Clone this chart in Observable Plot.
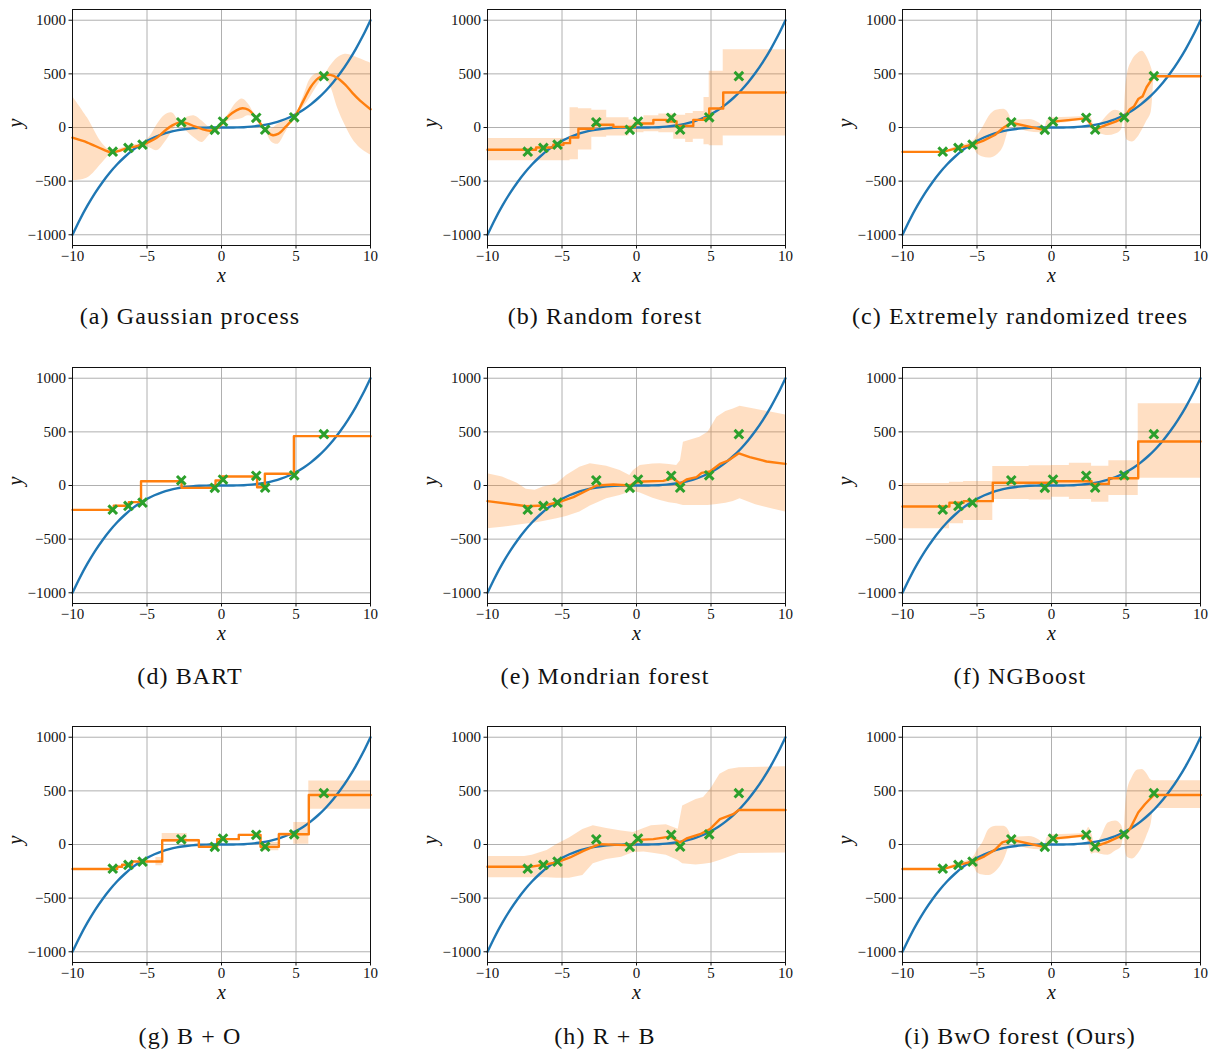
<!DOCTYPE html>
<html>
<head>
<meta charset="utf-8">
<script src="https://cdn.jsdelivr.net/npm/d3@7"></script>
<script src="https://cdn.jsdelivr.net/npm/@observablehq/plot@0.6"></script>
<style>
  html, body { margin: 0; padding: 0; background: #fff; }
  #root { position: relative; width: 1209px; height: 1049px; background: #fff; }
  .panel { position: absolute; }
  .panel svg text { font-family: 'Liberation Serif', 'DejaVu Serif', serif; }
  .cap { position: absolute; width: 380px; text-align: center; font-family: 'Liberation Serif', 'DejaVu Serif', serif;
         font-size: 24px; letter-spacing: 1.1px; line-height: 28px; color: #111; white-space: nowrap; }
</style>
</head>
<body>
<div id="root"></div>
<script>
// ---------- shared data ----------
const xTicks = [-10, -5, 0, 5, 10];
const yTicks = [-1000, -500, 0, 500, 1000];

// observed training points (green crosses)
const ptX = [-7.3, -6.25, -5.3, -2.7, -0.45, 0.1, 2.33, 2.93, 4.88, 6.87];
const ptY = [-225, -190, -160, 48, -22, 55, 90, -20, 95, 478];

// true function (blue curve), read at half-unit steps
const trueX = [-10,-9.5,-9,-8.5,-8,-7.5,-7,-6.5,-6,-5.5,-5,-4.5,-4,-3.5,-3,-2.5,-2,-1.5,-1,-0.5,0,0.5,1,1.5,2,2.5,3,3.5,4,4.5,5,5.5,6,6.5,7,7.5,8,8.5,9,9.5,10];
const trueY = [-1000,-857,-729,-614,-512,-422,-343,-275,-216,-166,-125,-91,-64,-43,-27,-16,-8,-3,-1,0,0,0,1,3,8,16,27,43,64,91,125,166,216,275,343,422,512,614,729,857,1000];

// (a) Gaussian process
const gpX    = [-10,-9,-8,-7.4,-6.8,-6.25,-5.8,-5.3,-4.8,-4.3,-3.8,-3.3,-2.8,-2.3,-1.8,-1.3,-0.8,-0.45,0,0.5,1.0,1.4,1.8,2.33,2.93,3.4,3.8,4.3,4.88,5.5,6.0,6.5,6.9,7.3,7.8,8.3,8.8,9.3,10];
const gpMean = [-95,-140,-202,-232,-215,-190,-178,-160,-130,-90,-30,20,48,38,10,-15,-30,-22,30,110,160,180,165,90,-20,-70,-60,5,95,250,380,460,485,490,460,400,320,250,170];
const gpHi   = [290,90,-150,-218,-195,-180,-160,-150,-85,30,115,135,60,95,108,60,0,-15,40,130,230,265,220,95,-15,-10,30,60,100,290,460,505,495,570,650,683,670,640,600];
const gpLo   = [-495,-470,-330,-245,-235,-200,-200,-170,-190,-215,-140,-40,40,-40,-100,-140,-70,-30,20,60,72,85,110,85,-25,-140,-155,-50,90,190,290,400,470,390,180,20,-110,-190,-255];

// (b) Random forest (step functions)
const rfX    = [-10,-6.74,-5.58,-4.9,-4.46,-3.9,-2.89,-1.55,-0.1,1.13,2.02,2.69,3.81,4.53,4.88,5.82,10];
const rfMean = [-208,-186,-161,-146,-93,-12,25,6,37,71,56,15,71,87,177,326,326];
const rfBandX = [-10,-4.46,-3.9,-3.0,-2.0,-0.5,0.5,1.5,2.5,3.3,3.81,4.53,4.88,5.82,10];
const rfHi    = [-102,185,175,160,90,70,110,125,115,130,150,280,525,725,725];
const rfLo    = [-310,-300,-210,-90,-80,-50,-40,-50,-110,-140,-110,-160,-170,-80,-80];

// (c) Extremely randomized trees
const ertX    = [-10,-7.3,-6.25,-5.3,-4.6,-3.8,-3.2,-2.7,-0.45,0.1,2.33,2.93,3.6,4.3,4.88,5.26,5.53,5.82,6.11,6.38,6.87,10];
const ertMean = [-227,-227,-190,-160,-125,-70,0,45,-25,55,85,-20,20,55,95,170,195,265,290,375,478,478];
const ertBandX = [-7.3,-6.8,-6.25,-5.6,-5.2,-5.0,-4.6,-4.2,-3.7,-3.2,-2.8,-2.7,-2.2,-1.5,-0.8,-0.45,-0.3,0.1,1.2,2.0,2.33,2.5,2.7,2.93,3.3,3.8,4.3,4.7,4.88,4.95,5.1,5.4,5.8,6.1,6.4,6.7,6.87];
const ertHi    = [-220,-200,-170,-150,-120,-80,0,100,160,170,110,60,70,75,40,0,60,90,95,100,100,120,80,-5,40,120,160,140,110,300,500,620,690,710,660,560,480];
const ertLo    = [-235,-220,-210,-190,-200,-240,-275,-285,-260,-170,10,30,-10,-40,-50,-45,-20,30,50,70,75,40,-20,-45,-60,-75,-60,-20,80,-40,-120,-135,-90,-20,60,150,470];

// (d) BART (step function, no band)
const bartX    = [-10,-7.23,-6.22,-5.4,-2.68,-0.4,0.04,2.39,2.91,4.86,10];
const bartMean = [-227,-189,-155,40,-22,47,84,-16,109,460,460];

// (e) Mondrian forest
const mfX    = [-10,-7.36,-6.25,-5.35,-4.23,-3.34,-2.67,-1.55,-0.44,-0.1,0.46,1.8,2.47,2.92,3.36,4.03,4.37,4.93,5.6,6.16,6.87,7.6,8.73,10];
const mfMean = [-146,-193,-186,-161,-109,-47,0,9,0,28,37,43,68,16,56,78,118,130,202,233,300,264,224,202];
const mfBandX = [-10,-9,-8,-7.4,-6.8,-6.25,-5.35,-4.7,-3.8,-3.1,-2,-1.1,-0.45,-0.2,0.25,1.1,1.6,2.2,2.7,2.95,3.15,4.25,4.8,5.4,6.0,6.5,6.95,8,9,10];
const mfHi    = [109,80,20,-35,-45,-15,15,93,170,202,180,140,93,140,186,200,202,195,186,230,404,450,497,637,690,714,739,710,685,658];
const mfLo    = [-404,-390,-370,-360,-350,-335,-310,-290,-248,-190,-124,-93,-62,-55,-70,-120,-140,-160,-171,-180,-186,-186,-186,-178,-165,-150,-124,-180,-215,-248];

// (f) NGBoost (step functions)
const ngX    = [-10,-6.85,-5.9,-3.94,0,2.69,3.85,5.82,10];
const ngMean = [-196,-161,-146,25,40,15,68,410,410];
const ngBandX = [-10,-6.85,-5.9,-3.94,-1.5,0,1.2,2.69,3.85,5.82,10];
const ngHi    = [18,31,37,177,183,186,208,180,230,761,761];
const ngLo    = [-404,-357,-326,-130,-136,-109,-130,-155,-93,68,68];

// (g) B + O (step functions)
const boX    = [-10,-7.0,-6.67,-6.0,-3.98,-1.52,-0.29,1.16,2.62,3.85,5.86,10];
const boMean = [-229,-208,-189,-158,40,-22,50,90,-22,96,462,462];
const boBandX = [-10,-4.4,-3.98,-2.3,-1.52,-0.29,1.16,2.62,3.85,4.85,5.86,10];
const boHi    = [-229,-121,102,48,-15,55,95,19,110,205,592,592];
const boLo    = [-229,-198,19,32,-30,45,85,-59,85,3,329,329];

// (h) R + B
const rbX    = [-10,-7.14,-6.25,-5.35,-4.46,-3.56,-2.89,-2.45,-0.66,-0.21,0.12,1.13,2.25,2.92,3.36,4.26,4.93,5.6,6.49,6.87,10];
const rbMean = [-208,-208,-189,-167,-121,-59,-19,3,-6,3,43,50,74,19,56,96,143,236,282,322,322];
const rbBandX = [-10,-7.5,-7,-6,-5.35,-4.5,-3.6,-2.9,-2,-1,-0.2,0.5,1,2,2.8,3.1,4,4.5,5,5.6,6.2,6.9,10];
const rbHi    = [-112,-112,-100,-55,0,60,140,174,150,125,112,150,174,183,143,360,420,437,520,654,700,716,725];
const rbLo    = [-310,-310,-310,-310,-315,-315,-290,-180,-140,-120,-75,-70,-80,-100,-150,-180,-190,-185,-175,-150,-120,-85,-80];

// (i) BwO forest (Ours)
const bwX    = [-10,-7.3,-6.25,-5.3,-4.5,-3.8,-3.3,-2.7,-0.45,0.1,2.33,2.93,3.8,4.88,5.26,5.82,6.27,6.87,10];
const bwMean = [-229,-229,-190,-160,-110,-50,20,45,-25,55,85,-20,25,95,143,298,375,462,462];
const bwBandX = [-7.3,-6.8,-6.25,-5.6,-5.2,-5.0,-4.6,-4.2,-3.7,-3.2,-2.8,-2.7,-2.2,-1.5,-0.8,-0.45,-0.3,0.1,1.2,2.0,2.33,2.5,2.7,2.93,3.3,3.8,4.3,4.7,4.88,4.95,5.1,5.4,5.8,6.1,6.4,6.7,6.87,6.871,10];
const bwHi    = [-215,-200,-170,-150,-110,-60,20,140,170,170,110,60,70,75,40,0,60,90,95,100,120,158,100,0,60,200,220,180,110,300,500,620,695,700,660,600,595,595,595];
const bwLo    = [-240,-220,-210,-195,-210,-260,-285,-290,-250,-150,0,30,-10,-40,-50,-45,-20,30,50,70,70,0,-90,-80,-90,-100,-60,-20,80,-40,-120,-136,-90,-20,80,200,335,335,335];

const captions = ["(a) Gaussian process", "(b) Random forest", "(c) Extremely randomized trees",
                  "(d) BART", "(e) Mondrian forest", "(f) NGBoost",
                  "(g) B + O", "(h) R + B", "(i) BwO forest (Ours)"];

// ---------- panel specs ----------
const panels = [
  {mx: gpX, my: gpMean, mc: "catmull-rom", bx: gpX, bh: gpHi, bl: gpLo, bc: "catmull-rom"},
  {mx: rfX, my: rfMean, mc: "step-after", bx: rfBandX, bh: rfHi, bl: rfLo, bc: "step-after"},
  {mx: ertX, my: ertMean, mc: "linear", bx: ertBandX, bh: ertHi, bl: ertLo, bc: "monotone-x"},
  {mx: bartX, my: bartMean, mc: "step-after"},
  {mx: mfX, my: mfMean, mc: "linear", bx: mfBandX, bh: mfHi, bl: mfLo, bc: "linear"},
  {mx: ngX, my: ngMean, mc: "step-after", bx: ngBandX, bh: ngHi, bl: ngLo, bc: "step-after"},
  {mx: boX, my: boMean, mc: "step-after", bx: boBandX, bh: boHi, bl: boLo, bc: "step-after"},
  {mx: rbX, my: rbMean, mc: "linear", bx: rbBandX, bh: rbHi, bl: rbLo, bc: "linear"},
  {mx: bwX, my: bwMean, mc: "linear", bx: bwBandX, bh: bwHi, bl: bwLo, bc: "monotone-x"}
];

const BLUE = "#1f77b4", ORANGE = "#ff7f0e", GREEN = "#2ca02c", GRID = "#b0b0b0";
const trueRows = trueX.map((x, i) => ({x, y: trueY[i]}));
const ptRows = ptX.map((x, i) => ({x, y: ptY[i]}));
const fmt = d3.format("d");

const ML = 72, MR = 8, MT = 8, MB = 70, FW = 298, FH = 236;
const colLeft = [0, 415, 830];
const rowTop = [1, 359, 718];
const capCenterY = [316, 676, 1036];

const root = document.getElementById("root");

panels.forEach((p, i) => {
  const col = i % 3, row = Math.floor(i / 3);
  const marks = [
    Plot.gridX({ticks: xTicks, stroke: GRID, strokeOpacity: 1, strokeWidth: 1}),
    Plot.gridY({ticks: yTicks, stroke: GRID, strokeOpacity: 1, strokeWidth: 1})
  ];
  if (p.bx) {
    const bandRows = p.bx.map((x, k) => ({x, lo: p.bl[k], hi: p.bh[k]}));
    marks.push(Plot.areaY(bandRows, {x: "x", y1: "lo", y2: "hi", curve: p.bc, fill: ORANGE, fillOpacity: 0.25}));
  }
  marks.push(Plot.line(trueRows, {x: "x", y: "y", stroke: BLUE, strokeWidth: 2.4, curve: "catmull-rom"}));
  const meanRows = p.mx.map((x, k) => ({x, y: p.my[k]}));
  marks.push(Plot.line(meanRows, {x: "x", y: "y", stroke: ORANGE, strokeWidth: 2.4, curve: p.mc}));
  marks.push(Plot.dot(ptRows, {x: "x", y: "y", symbol: "times", stroke: GREEN, strokeWidth: 3, r: 4}));
  marks.push(Plot.frame({stroke: "#111", strokeWidth: 1}));
  marks.push(Plot.axisX({ticks: xTicks, tickFormat: fmt, tickSize: 3.5, tickPadding: 1, label: null, fontSize: 15}));
  marks.push(Plot.axisY({ticks: yTicks, tickFormat: fmt, tickSize: 3.5, tickPadding: 3, label: null, fontSize: 15}));
  marks.push(Plot.text(["x"], {text: d => d, frameAnchor: "bottom", dy: 36, fontStyle: "italic", fontSize: 20}));
  marks.push(Plot.text(["y"], {text: d => d, frameAnchor: "left", dx: -57, rotate: -90, fontStyle: "italic", fontSize: 20}));

  const svg = Plot.plot({
    width: ML + FW + MR,
    height: MT + FH + MB,
    marginLeft: ML, marginRight: MR, marginTop: MT, marginBottom: MB,
    x: {domain: [-10, 10]},
    y: {domain: [-1100, 1100]},
    style: {fontFamily: "'Liberation Serif', 'DejaVu Serif', serif", fontSize: "15px", color: "#111", background: "transparent", overflow: "visible"},
    marks
  });
  const wrap = document.createElement("div");
  wrap.className = "panel";
  wrap.style.left = colLeft[col] + "px";
  wrap.style.top = rowTop[row] + "px";
  wrap.appendChild(svg);
  root.appendChild(wrap);

  const cap = document.createElement("div");
  cap.className = "cap";
  cap.textContent = captions[i];
  cap.style.left = colLeft[col] + "px";
  cap.style.top = (capCenterY[row] - 14) + "px";
  root.appendChild(cap);
});
</script>
</body>
</html>
